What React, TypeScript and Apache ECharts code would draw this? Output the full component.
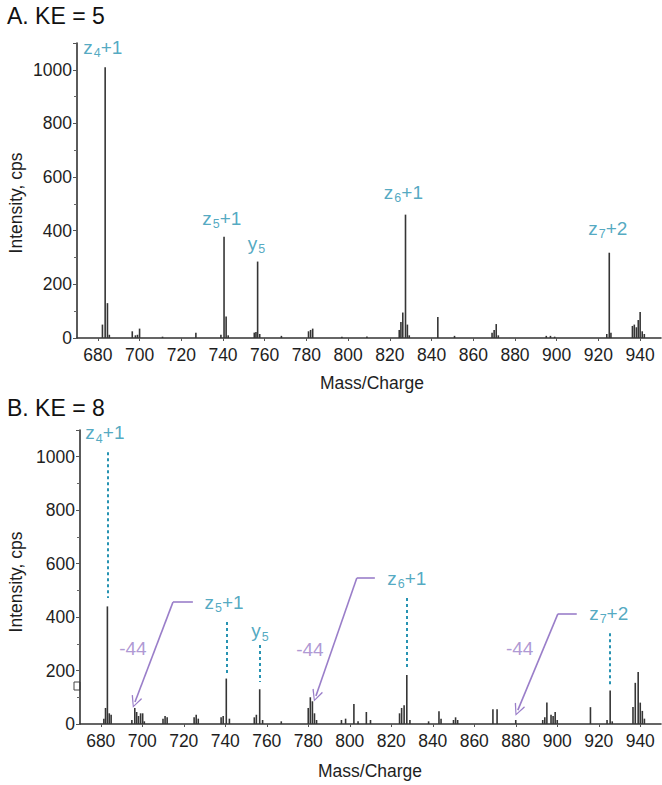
import React, { useEffect, useRef } from "react";
import * as echarts from "echarts";

// m/z axis ticks shared by both spectra
const mzTicks = [680, 700, 720, 740, 760, 780, 800, 820, 840, 860, 880, 900, 920, 940];

// KE = 5 spectrum: [m/z, intensity (cps)]
const spectrumKE5: [number, number][] = [
  [682.2, 50], [683.5, 1010], [684.6, 130], [685.5, 12],
  [696.5, 25], [698, 10], [699, 12], [700, 35],
  [711, 5], [727, 20], [739, 12], [740.5, 378], [741.5, 80], [742.5, 10],
  [755, 20], [755.8, 22], [756.6, 285], [757.6, 15],
  [768, 8], [781, 25], [782, 30], [783, 35],
  [797, 5], [809, 6], [824.5, 30], [825.3, 60], [826.2, 95], [827.5, 460], [828.4, 50], [829.3, 10],
  [843, 78], [851, 8], [869, 20], [870, 30], [871, 52], [872, 10],
  [895, 8], [897, 8], [899, 5],
  [924, 15], [925.2, 318], [926, 20],
  [936.3, 45], [937.2, 50], [938.2, 40], [939.1, 67], [940, 97], [941, 25], [942, 15],
];

// KE = 8 spectrum: [m/z, intensity (cps)]
const spectrumKE8: [number, number][] = [
  [681.5, 20], [682.3, 60], [683.2, 440], [684.1, 40], [685, 35],
  [695, 15], [696.4, 60], [697.3, 45], [698.2, 30], [699.2, 40], [700.2, 40], [701, 10],
  [710, 20], [711, 30], [712, 25],
  [725, 25], [726, 35], [727, 20],
  [738, 25], [739, 30], [740.5, 170], [742, 20],
  [754, 25], [755, 35], [756.6, 130], [758, 15],
  [767, 10], [780, 60], [781, 100], [782, 85], [783, 40], [784, 15],
  [796, 15], [798, 20], [802, 75], [804, 10], [808, 45], [810, 15],
  [824, 40], [825, 60], [826.2, 70], [827.5, 183], [829, 15],
  [838, 10], [843, 48], [844, 20], [850, 15], [851, 25], [852, 15],
  [869, 55], [871, 55], [880, 15],
  [893, 15], [894, 25], [895, 80], [897, 35], [898, 30], [899, 45], [900, 15],
  [916, 63], [924, 15], [925.5, 125], [926.5, 10],
  [936.5, 64], [937.6, 154], [939, 195], [940, 80], [941, 49], [942, 20],
];

// Fragment labels: [text, subscript, suffix, m/z, intensity]
const labelsKE5: [string, string, string, number, number][] = [
  ["z", "4", "+1", 682.4, 1085],
  ["z", "5", "+1", 739.4, 447],
  ["y", "5", "", 756.1, 354],
  ["z", "6", "+1", 826.5, 544],
  ["z", "7", "+2", 924.5, 410],
];
const labelsKE8: [string, string, string, number, number][] = [
  ["z", "4", "+1", 682.0, 1089],
  ["z", "5", "+1", 739.4, 456],
  ["y", "5", "", 756.7, 348],
  ["z", "6", "+1", 827.5, 546],
  ["z", "7", "+2", 924.8, 415],
];

// Dashed guide from label down to its peak: [m/z, top, bottom]
const guidesKE8: [number, number, number][] = [
  [683.2, 1017, 471],
  [740.5, 382, 191],
  [756.6, 296, 157],
  [827.5, 471, 213],
  [925.5, 340, 146],
];

// Neutral-loss arrows: start, elbow, head ([m/z, intensity] each)
const lossArrows: [number, number][][] = [
  [[724.4, 456], [714.8, 456], [696.5, 82]],
  [[812.1, 546], [803.4, 546], [783.7, 105]],
  [[909.4, 412], [900.3, 412], [881.0, 52]],
];
const lossLabels: [string, number, number][] = [
  ["-44", 695.5, 284],
  ["-44", 780.8, 277],
  ["-44", 881.9, 284],
];

const FONT = "'Liberation Sans', Arial, Helvetica, sans-serif";
const TEAL = "#2793b2";
const PURPLE = "#9a7ec9";
const INK = "#1e1e1e";
const BAR = "#353535";

const chevron = "path://M0,10 L5,0 L10,10 L9,10.8 L5,2.2 L1,10.8 Z";

function xAxis(gridIndex: number) {
  return {
    type: "value",
    gridIndex,
    min: 670,
    max: 950,
    axisLine: { show: true, lineStyle: { color: "#333", width: 1.6 } },
    axisTick: { show: true, length: 3, customValues: mzTicks, lineStyle: { color: "#555" } },
    axisLabel: { customValues: mzTicks, fontFamily: FONT, fontSize: 17.5, color: INK, margin: 8 },
    splitLine: { show: false },
  };
}

function yAxis(gridIndex: number) {
  return {
    type: "value",
    gridIndex,
    min: 0,
    max: 1100,
    interval: 200,
    axisLine: { show: true, lineStyle: { color: "#333", width: 1.6 } },
    axisTick: { show: true, length: 4, lineStyle: { color: "#555" } },
    minorTick: { show: true, splitNumber: 2, length: 3, lineStyle: { color: "#666" } },
    axisLabel: {
      fontFamily: FONT,
      fontSize: 17.5,
      color: INK,
      margin: 5,
      formatter: (v: number) => (v > 1000 ? "" : String(v)),
    },
    splitLine: { show: false },
  };
}

const richLabel = (color: string) => ({
  b: { fontFamily: FONT, fontSize: 19, color },
  s: { fontFamily: FONT, fontSize: 12.5, color, padding: [12, 0, 0, 1] },
});

function fragmentSeries(idx: number, labels: [string, string, string, number, number][]) {
  return {
    type: "scatter",
    xAxisIndex: idx,
    yAxisIndex: idx,
    symbolSize: 1,
    itemStyle: { color: "rgba(0,0,0,0)" },
    silent: true,
    data: labels.map(([t, sub, suf, x, y]) => ({
      value: [x, y],
      label: {
        show: true,
        position: "inside",
        formatter: `{b|${t}}{s|${sub}}{b|${suf}}`,
        rich: richLabel(TEAL),
      },
    })),
  };
}

const textStyle = (text: string, size: number) => ({
  text,
  fontFamily: FONT,
  fontSize: size,
  fill: INK,
  align: "center",
  verticalAlign: "middle",
});

export default function App() {
  const ref = useRef<HTMLDivElement>(null);

  useEffect(() => {
    if (!ref.current) return;
    const chart = echarts.init(ref.current, null, { renderer: "svg" });

    const guideLines = guidesKE8.map(([x, y0, y1]) => [
      { coord: [x, y0], symbol: "none" },
      { coord: [x, y1], symbol: "none" },
    ]);
    const arrowLines: any[] = [];
    lossArrows.forEach(([a, b, c]) => {
      arrowLines.push([
        { coord: a, symbol: "none", lineStyle: { color: PURPLE, width: 1.6, type: "solid" } },
        { coord: b, symbol: "none" },
      ]);
      arrowLines.push([
        { coord: b, symbol: "none", lineStyle: { color: PURPLE, width: 1.6, type: "solid" } },
        { coord: c, symbol: chevron, symbolSize: [11, 12] },
      ]);
    });

    chart.setOption({
      animation: false,
      backgroundColor: "#ffffff",
      grid: [
        { left: 77, top: 43, width: 584, height: 295 },
        { left: 80, top: 430, width: 581, height: 294 },
      ],
      xAxis: [xAxis(0), xAxis(1)],
      yAxis: [yAxis(0), yAxis(1)],
      series: [
        {
          type: "bar",
          xAxisIndex: 0,
          yAxisIndex: 0,
          barWidth: 1.6,
          itemStyle: { color: BAR },
          data: spectrumKE5,
        },
        {
          type: "bar",
          xAxisIndex: 1,
          yAxisIndex: 1,
          barWidth: 1.6,
          itemStyle: { color: BAR },
          data: spectrumKE8,
          markLine: {
            silent: true,
            symbol: "none",
            label: { show: false },
            lineStyle: { color: TEAL, width: 2, type: [3, 3] },
            data: [...guideLines, ...arrowLines],
          },
        },
        fragmentSeries(0, labelsKE5),
        fragmentSeries(1, labelsKE8),
        {
          type: "scatter",
          xAxisIndex: 1,
          yAxisIndex: 1,
          symbolSize: 1,
          itemStyle: { color: "rgba(0,0,0,0)" },
          silent: true,
          data: lossLabels.map(([t, x, y]) => ({
            value: [x, y],
            label: {
              show: true,
              position: "inside",
              formatter: t,
              fontFamily: FONT,
              fontSize: 19,
              color: PURPLE,
            },
          })),
        },
      ],
      graphic: [
        {
          type: "text",
          left: 7,
          top: 4,
          style: { text: "A. KE = 5", fontFamily: FONT, fontSize: 23, fill: "#111" },
        },
        {
          type: "text",
          left: 7,
          top: 396,
          style: { text: "B. KE = 8", fontFamily: FONT, fontSize: 23, fill: "#111" },
        },
        { type: "text", x: 16, y: 203, rotation: Math.PI / 2, style: textStyle("Intensity, cps", 17.5) },
        { type: "text", x: 16, y: 582, rotation: Math.PI / 2, style: textStyle("Intensity, cps", 17.5) },
        { type: "text", x: 372, y: 383, style: textStyle("Mass/Charge", 17.5) },
        { type: "text", x: 370, y: 771, style: textStyle("Mass/Charge", 17.5) },
        {
          type: "rect",
          shape: { x: 74, y: 682, width: 6, height: 8 },
          style: { fill: "#fff", stroke: "#444", lineWidth: 1 },
        },
      ],
    });

    return () => chart.dispose();
  }, []);

  return (
    <div
      ref={ref}
      style={{ position: "absolute", left: 0, top: 0, width: 662, height: 785, background: "#fff" }}
    />
  );
}
